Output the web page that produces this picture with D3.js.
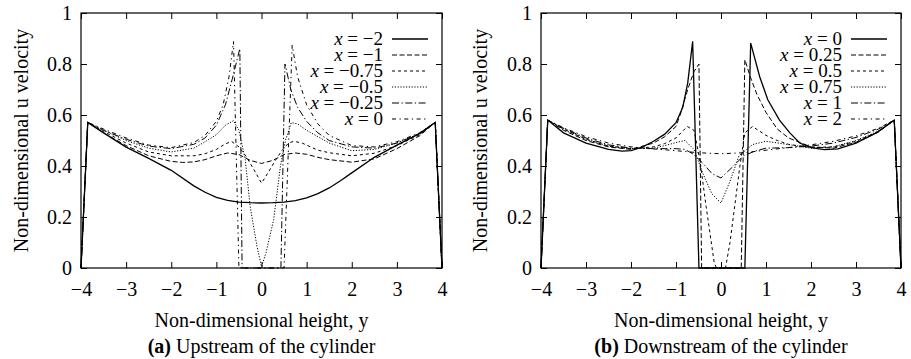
<!DOCTYPE html>
<html><head><meta charset="utf-8">
<script src="https://cdn.jsdelivr.net/npm/d3@7"></script>
<style>
body{margin:0;background:#fff}
svg{display:block}
text{font-family:"Liberation Serif","Times New Roman",serif;fill:#000}
</style>
</head><body>
<svg id="c" width="911" height="359"></svg>
<script>
// ---------------- data ----------------
const xTickValues = [-4,-3,-2,-1,0,1,2,3,4];
const yTickValues = [0,0.2,0.4,0.6,0.8,1];
const xTickLabels = ["\u22124","\u22123","\u22122","\u22121","0","1","2","3","4"];
const yTickLabels = ["0","0.2","0.4","0.6","0.8","1"];

const upstreamLabels = ["\u22122","\u22121","\u22120.75","\u22120.5","\u22120.25","0"];
const downstreamLabels = ["0","0.25","0.5","0.75","1","2"];

// Upstream (a): [y, u]
const upXm2 = [[-4,0],[-3.85,0.571],[-3.5,0.53],[-3,0.474],[-2.5,0.43],[-2,0.383],[-1.5,0.322],[-1.25,0.297],[-1,0.277],[-0.75,0.265],[-0.5,0.258],[-0.25,0.256],[0,0.255],[0.25,0.256],[0.5,0.258],[0.75,0.264],[1,0.275],[1.25,0.292],[1.5,0.314],[1.75,0.342],[2,0.373],[2.5,0.434],[3,0.482],[3.5,0.527],[3.85,0.571],[4,0]];
const upXm1 = [[-4,0],[-3.85,0.571],[-3.5,0.53],[-3,0.48],[-2.5,0.44],[-2,0.418],[-1.75,0.414],[-1.5,0.416],[-1.25,0.425],[-1,0.44],[-0.75,0.451],[-0.5,0.445],[-0.25,0.422],[0,0.41],[0.25,0.422],[0.5,0.445],[0.75,0.451],[1,0.446],[1.25,0.434],[1.5,0.425],[2,0.415],[2.5,0.428],[3,0.468],[3.5,0.518],[3.85,0.571],[4,0]];
const upXm075 = [[-4,0],[-3.85,0.571],[-3.5,0.535],[-3,0.49],[-2.5,0.455],[-2,0.44],[-1.5,0.44],[-1.25,0.448],[-1,0.465],[-0.8,0.487],[-0.66,0.496],[-0.5,0.475],[-0.33,0.435],[-0.15,0.38],[0,0.333],[0.15,0.375],[0.3,0.42],[0.45,0.46],[0.6,0.49],[0.72,0.497],[0.9,0.49],[1.25,0.462],[1.5,0.452],[2,0.44],[2.5,0.45],[3,0.48],[3.5,0.522],[3.85,0.571],[4,0]];
const upXm05 = [[-4,0],[-3.85,0.571],[-3.5,0.54],[-3,0.5],[-2.5,0.47],[-2,0.455],[-1.5,0.47],[-1.25,0.495],[-1,0.523],[-0.8,0.56],[-0.62,0.578],[-0.5,0.54],[-0.36,0.425],[-0.25,0.24],[-0.1,0.085],[0,0.005],[0.1,0.06],[0.27,0.19],[0.42,0.4],[0.53,0.5],[0.66,0.57],[0.8,0.565],[1,0.54],[1.25,0.515],[1.5,0.49],[2,0.46],[2.5,0.465],[3,0.49],[3.5,0.527],[3.85,0.571],[4,0]];
const upXm025 = [[-4,0],[-3.85,0.571],[-3.5,0.54],[-3,0.505],[-2.5,0.478],[-2,0.468],[-1.5,0.485],[-1.25,0.51],[-1,0.56],[-0.8,0.64],[-0.65,0.74],[-0.48,0.86],[-0.43,0],[0.43,0],[0.52,0.8],[0.65,0.7],[0.8,0.63],[1,0.575],[1.25,0.53],[1.5,0.5],[2,0.475],[2.5,0.47],[3,0.49],[3.5,0.527],[3.85,0.571],[4,0]];
const upX0 = [[-4,0],[-3.85,0.571],[-3.5,0.545],[-3,0.51],[-2.5,0.482],[-2,0.472],[-1.5,0.492],[-1.25,0.52],[-1,0.575],[-0.85,0.64],[-0.72,0.75],[-0.62,0.888],[-0.5,0],[0.5,0],[0.68,0.873],[0.8,0.75],[1,0.64],[1.25,0.565],[1.5,0.52],[2,0.48],[2.5,0.475],[3,0.495],[3.5,0.53],[3.85,0.571],[4,0]];

// Downstream (b): [y, u]
const downX0 = [[-4,0],[-3.85,0.58],[-3.5,0.53],[-3,0.49],[-2.5,0.465],[-2.2,0.458],[-2,0.46],[-1.75,0.474],[-1.5,0.497],[-1.25,0.525],[-1,0.57],[-0.85,0.63],[-0.74,0.725],[-0.63,0.889],[-0.49,0],[0.53,0],[0.66,0.882],[0.86,0.75],[1.04,0.66],[1.3,0.58],[1.53,0.53],[1.75,0.49],[2,0.472],[2.3,0.464],[2.6,0.467],[3,0.49],[3.45,0.53],[3.85,0.58],[4,0]];
const downX025 = [[-4,0],[-3.85,0.58],[-3.5,0.54],[-3,0.5],[-2.5,0.475],[-2,0.465],[-1.5,0.49],[-1.25,0.515],[-1,0.555],[-0.89,0.61],[-0.74,0.7],[-0.6,0.77],[-0.49,0.8],[-0.43,0],[0.45,0],[0.53,0.817],[0.65,0.75],[0.8,0.68],[1,0.61],[1.25,0.545],[1.5,0.51],[2,0.475],[2.5,0.47],[3,0.493],[3.5,0.533],[3.85,0.58],[4,0]];
const downX05 = [[-4,0],[-3.85,0.58],[-3.5,0.545],[-3,0.505],[-2.5,0.478],[-2,0.468],[-1.5,0.475],[-1.25,0.488],[-1,0.51],[-0.75,0.555],[-0.6,0.54],[-0.47,0.425],[-0.33,0.24],[-0.15,0.02],[-0.1,0],[0.1,0],[0.2,0.1],[0.42,0.4],[0.53,0.53],[0.7,0.555],[1,0.52],[1.25,0.5],[1.5,0.485],[2,0.472],[2.5,0.475],[3,0.497],[3.5,0.535],[3.85,0.58],[4,0]];
const downX075 = [[-4,0],[-3.85,0.58],[-3.5,0.545],[-3,0.505],[-2.5,0.478],[-2,0.468],[-1.5,0.47],[-1.25,0.48],[-1,0.492],[-0.8,0.5],[-0.6,0.465],[-0.4,0.37],[-0.2,0.29],[0,0.255],[0.2,0.34],[0.4,0.44],[0.7,0.484],[1,0.497],[1.5,0.484],[2,0.47],[2.5,0.475],[3,0.5],[3.5,0.537],[3.85,0.58],[4,0]];
const downX1 = [[-4,0],[-3.85,0.58],[-3.5,0.548],[-3,0.51],[-2.5,0.483],[-2,0.47],[-1.5,0.468],[-1,0.468],[-0.8,0.465],[-0.6,0.445],[-0.4,0.41],[-0.2,0.37],[0,0.353],[0.25,0.395],[0.5,0.44],[0.75,0.458],[1,0.47],[1.5,0.472],[2,0.478],[2.5,0.49],[3,0.512],[3.5,0.545],[3.85,0.58],[4,0]];
const downX2 = [[-4,0],[-3.85,0.58],[-3.5,0.55],[-3,0.515],[-2.5,0.49],[-2,0.475],[-1.5,0.467],[-1,0.46],[-0.5,0.452],[0,0.448],[0.5,0.452],[1,0.462],[1.5,0.472],[2,0.483],[2.5,0.497],[3,0.518],[3.5,0.548],[3.85,0.58],[4,0]];

// ---------------- styles / layout ----------------
const dashStyles = [
  {dash:null, w:1.3},
  {dash:"5,2.5", w:1},
  {dash:"3,3", w:1},
  {dash:"1.2,1.6", w:1},
  {dash:"7,2.5,1.3,2.5", w:1},
  {dash:"4,3.5,1.3,3.5", w:1}
];

const panels = [
  {left:81, right:442, series:[upXm2,upXm1,upXm075,upXm05,upXm025,upX0], labels:upstreamLabels,
   capBold:"(a)", capText:" Upstream of the cylinder", ylabX:28},
  {left:541, right:901, series:[downX0,downX025,downX05,downX075,downX1,downX2], labels:downstreamLabels,
   capBold:"(b)", capText:" Downstream of the cylinder", ylabX:487}
];
const plotTop = 13, plotBottom = 268;

const svg = d3.select("#c");

panels.forEach(p => {
  const x = d3.scaleLinear().domain([-4,4]).range([p.left,p.right]);
  const y = d3.scaleLinear().domain([0,1]).range([plotBottom,plotTop]);
  const g = svg.append("g");

  // axes with inward ticks
  const ax = g.append("g").attr("transform",`translate(0,${plotBottom})`)
    .call(d3.axisBottom(x).tickValues(xTickValues).tickSize(-6).tickPadding(14)
      .tickFormat((d,i)=>xTickLabels[i]));
  const axT = g.append("g").attr("transform",`translate(0,${plotTop})`)
    .call(d3.axisTop(x).tickValues(xTickValues).tickSize(-6).tickFormat(""));
  const ay = g.append("g").attr("transform",`translate(${p.left},0)`)
    .call(d3.axisLeft(y).tickValues(yTickValues).tickSize(-6).tickPadding(9)
      .tickFormat((d,i)=>yTickLabels[i]));
  const ayR = g.append("g").attr("transform",`translate(${p.right},0)`)
    .call(d3.axisRight(y).tickValues(yTickValues).tickSize(-6).tickFormat(""));
  [ax,axT,ay,ayR].forEach(a=>{
    a.select(".domain").remove();
    a.selectAll("line").attr("stroke","#000").attr("stroke-width",1);
    a.selectAll("text").attr("font-size",20).attr("font-family","Liberation Serif, Times New Roman, serif").attr("fill","#000");
  });

  g.append("rect").attr("x",p.left).attr("y",plotTop)
    .attr("width",p.right-p.left).attr("height",plotBottom-plotTop)
    .attr("fill","none").attr("stroke","#000").attr("stroke-width",1.2);

  const line = d3.line().x(d=>x(d[0])).y(d=>y(d[1]));
  p.series.forEach((s,i)=>{
    const st = dashStyles[i];
    const path = g.append("path").datum(s).attr("d",line)
      .attr("fill","none").attr("stroke","#000").attr("stroke-width",st.w)
      .attr("stroke-linejoin","miter");
    if (st.dash) path.attr("stroke-dasharray",st.dash);
  });

  // legend
  const legEndText = p.right - 59, legL1 = p.right - 50, legL2 = p.right - 14;
  p.labels.forEach((lab,i)=>{
    const cy = 39 + 16*i;
    const t = g.append("text").attr("x",legEndText).attr("y",cy+6)
      .attr("text-anchor","end").attr("font-size",19);
    t.append("tspan").attr("font-style","italic").text("x");
    t.append("tspan").text(" = " + lab);
    const st = dashStyles[i];
    const l = g.append("line").attr("x1",legL1).attr("x2",legL2).attr("y1",cy).attr("y2",cy)
      .attr("stroke","#000").attr("stroke-width",st.w);
    if (st.dash) l.attr("stroke-dasharray",st.dash);
  });

  // axis titles
  const cx = (p.left+p.right)/2;
  g.append("text").attr("x",cx).attr("y",327).attr("text-anchor","middle")
    .attr("font-size",20).text("Non-dimensional height, y");
  g.append("text").attr("transform",`translate(${p.ylabX},${(plotTop+plotBottom)/2}) rotate(-90)`)
    .attr("text-anchor","middle").attr("font-size",20).text("Non-dimensional u velocity");
  const cap = g.append("text").attr("x",cx).attr("y",353).attr("text-anchor","middle").attr("font-size",20);
  cap.append("tspan").attr("font-weight","bold").text(p.capBold);
  cap.append("tspan").text(p.capText);
});
</script>
</body></html>
